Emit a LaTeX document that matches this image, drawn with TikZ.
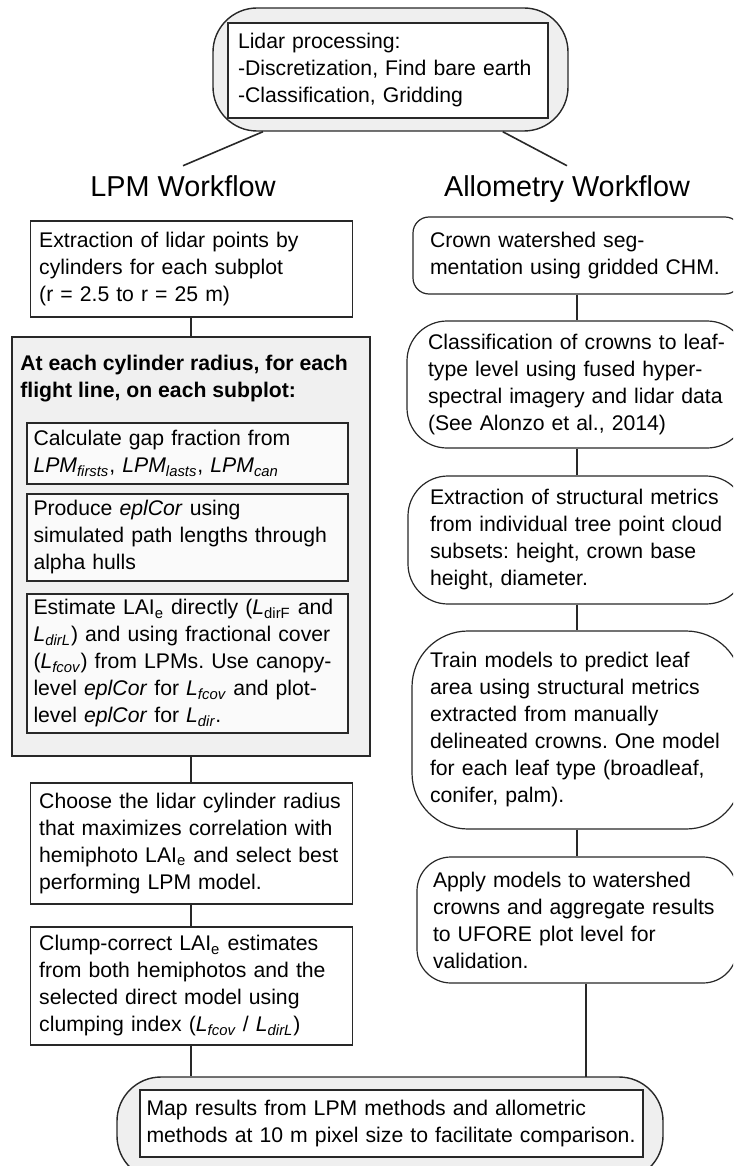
\documentclass[tikz,border=0pt]{standalone}
\usepackage{fontspec}
\setmainfont{Liberation Sans}
\usepackage{tikz}
\usepackage{xcolor}
\definecolor{linegray}{RGB}{40,40,40}
\definecolor{framefill}{RGB}{239,239,239}
\definecolor{groupfill}{RGB}{240,240,240}
\definecolor{innerfill}{RGB}{250,250,250}
\newcommand{\wfbody}{\fontsize{10.6}{13.5}\selectfont\frenchspacing}
\newcommand{\wfhead}{\fontsize{14.4}{17}\selectfont}
\newcommand{\lsub}[1]{\textsubscript{#1}}
\tikzset{
  plainbox/.style={draw=linegray,line width=0.6pt,fill=white,align=left,font=\wfbody,inner sep=0pt},
  lpmbox/.style={plainbox,minimum width=161pt,text width=152pt},
  subbox/.style={plainbox,fill=innerfill,minimum width=160.5pt,text width=154pt},
  groupbox/.style={draw=linegray,line width=1.1pt,fill=groupfill,minimum width=179pt,inner sep=0pt},
  allobox/.style={plainbox,rounded corners=#1,text width=147pt},
  allobox/.default=8pt,
  framebox/.style={draw=linegray,line width=0.7pt,fill=framefill,rounded corners=22pt,inner sep=0pt},
  headtext/.style={font=\wfhead,anchor=base,inner sep=5pt},
  link/.style={draw=linegray,line width=0.8pt}
}

\begin{document}
\begin{tikzpicture}[x=1pt,y=-1pt]
  \clip (0,0) rectangle (366.5,583);
  % common lidar step
  \node[framebox,minimum width=177.5pt,minimum height=61.5pt] (lidarframe) at (195.25,34.75) {};
  \node[plainbox,minimum width=160pt,minimum height=47.5pt,text width=150pt] (lidar) at (194,35.25)
    {Lidar processing:\\-Discretization, Find bare earth\\-Classification, Gridding};
  \node[headtext] (lpmhead) at (91.5,98.5) {LPM Workflow};
  \node[headtext] (allohead) at (283.5,98.5) {Allometry Workflow};
  \draw[link] (lidarframe.206) -- (lpmhead.north);
  \draw[link] (lidarframe.331) -- (allohead.north);

  % LPM workflow
  \node[lpmbox,minimum height=48pt] (extr) at (95.6,134.5)
    {Extraction of lidar points by\\cylinders for each subplot\\(r = 2.5 to r = 25 m)};
  \node[groupbox,minimum height=209.5pt] (cyl) at (95.6,273.25) {};
  \node[font=\wfbody\bfseries,align=left,anchor=west,inner sep=0pt] (cylhead) at (10,189.5)
    {At each cylinder radius, for each\\flight line, on each subplot:};
  \node[subbox,minimum height=30.5pt] (gapf) at (93.75,226.75)
    {Calculate gap fraction from\\\textit{LPM\lsub{firsts}}, \textit{LPM\lsub{lasts}}, \textit{LPM\lsub{can}}};
  \node[subbox,minimum height=43.5pt] (eplc) at (93.75,268.75)
    {Produce \textit{eplCor} using\\simulated path lengths through\\alpha hulls};
  \node[subbox,minimum height=69.5pt] (estim) at (93.75,331.75)
    {Estimate LAI\lsub{e} directly (\textit{L}\lsub{dirF} and\\\textit{L\lsub{dirL}}) and using fractional cover\\(\textit{L\lsub{fcov}}) from LPMs. Use canopy-\\level \textit{eplCor} for \textit{L\lsub{fcov}} and plot-\\level \textit{eplCor} for \textit{L\lsub{dir}}.};
  \node[lpmbox,minimum height=60.5pt] (choose) at (95.6,421.75)
    {Choose the lidar cylinder radius\\that maximizes correlation with\\hemiphoto LAI\lsub{e} and select best\\performing LPM model.};
  \node[lpmbox,minimum height=59pt] (clump) at (95.6,493)
    {Clump-correct LAI\lsub{e} estimates\\from both hemiphotos and the\\selected direct model using\\clumping index (\textit{L\lsub{fcov}} / \textit{L\lsub{dirL}})};
  \draw[link] (extr) -- (cyl);
  \draw[link] (cyl) -- (choose);
  \draw[link] (choose) -- (clump);

  % allometry workflow
  \node[allobox,minimum width=164pt,minimum height=38.5pt] (crown) at (288.5,127.75)
    {Crown watershed seg-\\mentation using gridded CHM.};
  \node[allobox=20pt,minimum width=170pt,minimum height=63.5pt,text width=149pt] (classif) at (288.5,192.25)
    {Classification of crowns to leaf-\\type level using fused hyper-\\spectral imagery and lidar data\\(See Alonzo et al., 2014)};
  \node[allobox=20pt,minimum width=169pt,minimum height=64pt] (exmet) at (288.5,270)
    {Extraction of structural metrics\\from individual tree point cloud\\subsets: height, crown base\\height, diameter.};
  \node[allobox=28pt,minimum width=165pt,minimum height=99pt] (train) at (288.5,365)
    {Train models to predict leaf\\area using structural metrics\\extracted from manually\\delineated crowns. One model\\for each leaf type (broadleaf,\\conifer, palm).};
  \node[allobox=17pt,minimum width=160pt,minimum height=63pt,text width=144pt] (apply) at (288.5,460)
    {Apply models to watershed\\crowns and aggregate results\\to UFORE plot level for\\validation.};
  \draw[link] (crown) -- (classif);
  \draw[link] (classif) -- (exmet);
  \draw[link] (exmet) -- (train);
  \draw[link] (train) -- (apply);

  % joint mapping step
  \node[framebox,minimum width=273pt,minimum height=51.5pt] (mapframe) at (195,564.25) {};
  \node[plainbox,minimum width=251.5pt,minimum height=33.5pt,text width=245pt] (map) at (195.75,561.75)
    {Map results from LPM methods and allometric\\methods at 10 m pixel size to facilitate comparison.};
  \coordinate (alloin) at (293,538.5);
  \draw[link] (clump.south) -- (clump.south |- mapframe.north);
  \draw[link] (apply.south -| alloin) -- (alloin);
\end{tikzpicture}
\end{document}
